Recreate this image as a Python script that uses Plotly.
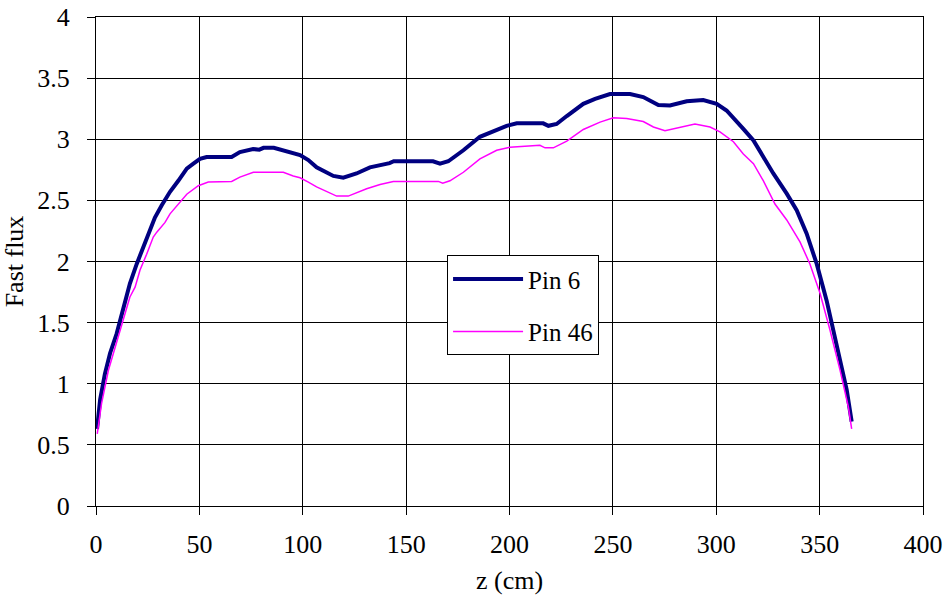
import plotly.graph_objects as go

# Pin 6 (thick navy)
z_pin6 = [0.5, 2, 4.3, 6.8, 10, 12.4, 16.4, 19.7, 22.9, 26.9, 28.5, 31.8, 35.8, 39.8, 43.9, 47.1,
          50.3, 53.5, 65.6, 69.6, 76, 79, 81, 86, 94, 98.7, 102.7, 106.7, 114.8, 119.6, 126,
          132.5, 142, 144, 163, 166.4, 170.4, 177.7, 185.7, 191.4, 198.6, 203.5, 216.3, 218.8,
          222.8, 227.7, 235.7, 241.4, 248.6, 258.3, 264.7, 272, 277.6, 285.7, 293.7, 300.2,
          305, 313.1, 318, 322.8, 327.6, 334.1, 338.9, 343.7, 348.6, 353.4, 356.6, 359.9,
          363.1, 365.5]
flux_pin6 = [0.63, 0.87, 1.08, 1.25, 1.41, 1.57, 1.82, 1.98, 2.12, 2.28, 2.36, 2.46, 2.57, 2.66,
             2.76, 2.80, 2.84, 2.855, 2.855, 2.895, 2.92, 2.915, 2.93, 2.93, 2.895, 2.87, 2.83,
             2.77, 2.70, 2.685, 2.72, 2.77, 2.805, 2.82, 2.82, 2.80, 2.82, 2.91, 3.02, 3.06,
             3.11, 3.13, 3.13, 3.11, 3.125, 3.19, 3.29, 3.33, 3.37, 3.37, 3.345, 3.28, 3.276,
             3.31, 3.32, 3.29, 3.235, 3.085, 2.99, 2.855, 2.72, 2.555, 2.42, 2.23, 1.98, 1.68,
             1.44, 1.19, 0.95, 0.69]

# Pin 46 (thin magenta)
z_pin46 = [0.6, 2.7, 6.0, 9.2, 12.4, 16.4, 18.9, 21.3, 24.5, 27.7, 29.4, 33.4, 35.8, 39.8, 43.9,
           49.5, 54.3, 65.6, 69.6, 76.1, 90.6, 95.4, 98.7, 102.7, 106.7, 116.4, 122, 130.9,
           137.4, 143.8, 165.6, 167.7, 171.2, 177.7, 185.7, 193.8, 200.2, 214.7, 217.2, 221.2,
           227.7, 235.7, 243.8, 250.2, 256.7, 264.7, 269.6, 275.2, 282.5, 289.7, 297, 301.8,
           308.3, 313.1, 318, 322.8, 328.4, 334.1, 340.5, 345.3, 350.2, 355, 359.9, 363.9, 365.5]
flux_pin46 = [0.59, 0.84, 1.11, 1.30, 1.49, 1.71, 1.79, 1.93, 2.06, 2.20, 2.24, 2.32, 2.39, 2.47,
              2.55, 2.62, 2.65, 2.655, 2.69, 2.73, 2.73, 2.70, 2.685, 2.65, 2.61, 2.535, 2.535,
              2.595, 2.63, 2.655, 2.655, 2.64, 2.66, 2.73, 2.84, 2.91, 2.935, 2.95, 2.93, 2.93,
              2.985, 3.08, 3.14, 3.175, 3.17, 3.145, 3.10, 3.07, 3.10, 3.125, 3.10, 3.06, 2.98,
              2.88, 2.80, 2.66, 2.47, 2.34, 2.16, 1.98, 1.74, 1.44, 1.11, 0.81, 0.63]

x_ticks = [0, 50, 100, 150, 200, 250, 300, 350, 400]
y_ticks = [0, 0.5, 1, 1.5, 2, 2.5, 3, 3.5, 4]

FONT = "Liberation Serif"

fig = go.Figure()
fig.add_trace(go.Scatter(x=z_pin6, y=flux_pin6, mode="lines", name="Pin 6",
                         legendgroup="a", line=dict(color="#000080", width=4)))
fig.add_trace(go.Scatter(x=z_pin46, y=flux_pin46, mode="lines", name="Pin 46",
                         legendgroup="b", line=dict(color="#FF00FF", width=1.5)))

# tiny white helper text so the serif font set is initialised in the page
fig.add_annotation(x=1, y=-0.18, xref="paper", yref="paper", showarrow=False,
                   xanchor="right", yanchor="bottom", text=".",
                   font=dict(family="DejaVu Serif", size=2, color="white"))

fig.update_layout(
    width=949, height=599,
    paper_bgcolor="white", plot_bgcolor="white",
    margin=dict(l=96, r=26, t=17, b=93),
    font=dict(family=FONT, size=26, color="black"),
    legend=dict(x=0.4245, y=0.513, xanchor="left", yanchor="top",
                bgcolor="white", bordercolor="black", borderwidth=1,
                font=dict(family=FONT, size=25, color="black"),
                tracegroupgap=17, itemwidth=70),
    xaxis=dict(range=[0, 400], tickvals=x_ticks, showgrid=True, gridcolor="black",
               gridwidth=1, showline=True, linecolor="black", linewidth=1, mirror=True,
               ticks="outside", ticklen=8, tickcolor="black", zeroline=False,
               ticklabelstandoff=7, automargin=False,
               tickfont=dict(family=FONT, size=26, color="black"),
               title=dict(text="z (cm)", standoff=12,
                          font=dict(family=FONT, size=26, color="black"))),
    yaxis=dict(range=[0, 4], tickvals=y_ticks, showgrid=True, gridcolor="black",
               gridwidth=1, showline=True, linecolor="black", linewidth=1, mirror=True,
               ticks="outside", ticklen=8, tickcolor="black", zeroline=False,
               ticklabelstandoff=12, automargin=False,
               tickfont=dict(family=FONT, size=26, color="black"),
               title=dict(text="Fast flux", standoff=7,
                          font=dict(family=FONT, size=26, color="black"))),
)

fig.write_html("out.html", config={"displayModeBar": False},
               post_script="document.body.style.margin='0';document.body.style.padding='0';")
